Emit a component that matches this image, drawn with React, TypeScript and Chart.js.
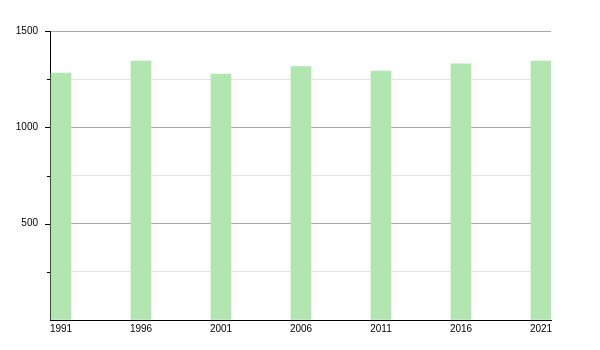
import React, { useEffect, useRef } from "react";
import { Chart, registerables } from "chart.js";

Chart.register(...registerables);

const years = [1991, 1996, 2001, 2006, 2011, 2016, 2021];
const population = [1282, 1344, 1277, 1315, 1292, 1329, 1344];
const yMajorTicks = [500, 1000, 1500];

const tickMarks = {
  id: "tickMarks",
  afterDraw(chart: any) {
    const y = chart.scales.y;
    const ctx = chart.ctx;
    const left = chart.chartArea.left;
    ctx.save();
    ctx.strokeStyle = "#000";
    ctx.lineWidth = 1;
    y.ticks.forEach((t: any) => {
      if (t.value === 0) return;
      const py = Math.round(y.getPixelForValue(t.value)) + 0.5;
      const len = t.value % 500 === 0 ? 5 : 3;
      ctx.beginPath();
      ctx.moveTo(left - len, py);
      ctx.lineTo(left, py);
      ctx.stroke();
    });
    ctx.restore();
  },
};

export default function App() {
  const ref = useRef<HTMLCanvasElement | null>(null);
  useEffect(() => {
    document.body.style.margin = "0";
    const chart = new Chart(ref.current as HTMLCanvasElement, {
      type: "bar",
      data: {
        datasets: [
          {
            data: years.map((x, i) => ({ x, y: population[i] })),
            backgroundColor: "#b1e6b1",
            borderWidth: 0,
            barThickness: 20,
          },
        ],
      },
      options: {
        animation: false,
        responsive: true,
        maintainAspectRatio: false,
        layout: { padding: { top: 31, right: 49, bottom: 0, left: 0 } },
        plugins: { legend: { display: false }, tooltip: { enabled: false } },
        scales: {
          x: {
            type: "linear",
            offset: false,
            min: 1990.3125,
            max: 2021.625,
            afterBuildTicks: (axis: any) => {
              axis.ticks = years.map((v) => ({ value: v }));
            },
            afterFit: (s: any) => {
              s.height = 30;
            },
            grid: { display: false, drawTicks: false, offset: false },
            border: { display: true, color: "#000", width: 1 },
            ticks: {
              padding: 3,
              autoSkip: false,
              maxRotation: 0,
              color: "#000",
              font: { family: "'Liberation Sans', Arial, sans-serif", size: 10 },
              callback: (v: any) => String(v),
            },
          },
          y: {
            type: "linear",
            min: 0,
            max: 1500,
            afterFit: (s: any) => {
              s.width = 50;
            },
            border: { display: true, color: "#000", width: 1 },
            grid: {
              drawTicks: false,
              color: (c: any) =>
                c.tick && c.tick.value % 500 === 0 ? "#a8a8a8" : "#e4e4e4",
            },
            ticks: {
              stepSize: 250,
              padding: 12,
              color: "#000",
              font: { family: "'Liberation Sans', Arial, sans-serif", size: 10 },
              callback: (v: any) =>
                yMajorTicks.includes(Number(v)) ? String(v) : "",
            },
          },
        },
      },
      plugins: [tickMarks],
    });
    return () => chart.destroy();
  }, []);
  return (
    <div style={{ width: 600, height: 350, position: "relative" }}>
      <canvas ref={ref} />
    </div>
  );
}
